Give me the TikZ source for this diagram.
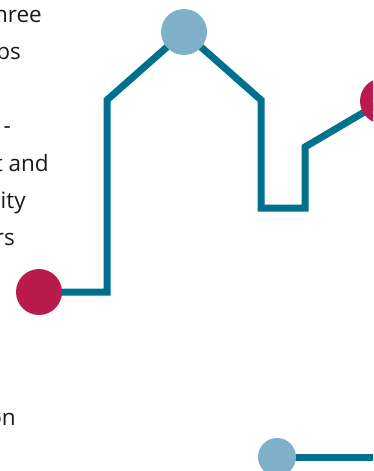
\documentclass[tikz,border=0pt]{standalone}
\usepackage{fontspec}
\setmainfont{Open Sans}
\definecolor{teal}{RGB}{0,112,143}
\definecolor{lightblue}{RGB}{127,176,201}
\definecolor{crimson}{RGB}{187,27,76}
\definecolor{textgray}{RGB}{26,26,26}
\tikzset{
  route/.style={draw=teal,line width=7pt,miter limit=10,line join=miter},
  bigdot/.style={circle,inner sep=0pt,minimum size=46pt},
  smalldot/.style={circle,inner sep=0pt,minimum size=38pt,fill=lightblue},
  frag/.style={anchor=base east,inner sep=0pt,text=textgray,font=\fontsize{22.5}{26}\selectfont}
}
\begin{document}
\begin{tikzpicture}[x=1pt,y=-1pt]
\useasboundingbox (0,0) rectangle (373,471);
\clip (0,0) rectangle (373,471);
% coordinates
\coordinate (s) at (39,292);
\coordinate (k1) at (107,292);
\coordinate (k2) at (107,100);
\coordinate (t) at (184,32);
\coordinate (k3) at (261,100);
\coordinate (k4) at (261,208);
\coordinate (k5) at (305,208);
\coordinate (k6) at (305,147);
\coordinate (r) at (383,101);
\coordinate (b) at (277,457);
\coordinate (e) at (380,457);
\draw[route] (s) -- (k1) -- (k2) -- (t) -- (k3) -- (k4) -- (k5) -- (k6) -- (r);
\draw[route] (b) -- (e);
\node[bigdot,fill=crimson] (sn) at (s) {};
\node[bigdot,fill=lightblue] (tn) at (t) {};
\node[bigdot,fill=crimson] (rn) at (r) {};
\node[smalldot] (bn) at (b) {};
% text fragments
\node[frag] (l1) at (42,23) {hree};
\node[frag] (l2) at (21,59) {ps};
\node[frag] (l3) at (11,133) {-};
\node[frag] (l4) at (49,171) {t and};
\node[frag,anchor=base west] (l5) at (0.5,208) {ity};
\node[frag] (l6) at (15,245) {rs};
\node[frag] (l7) at (16,425) {on};
\end{tikzpicture}
\end{document}
